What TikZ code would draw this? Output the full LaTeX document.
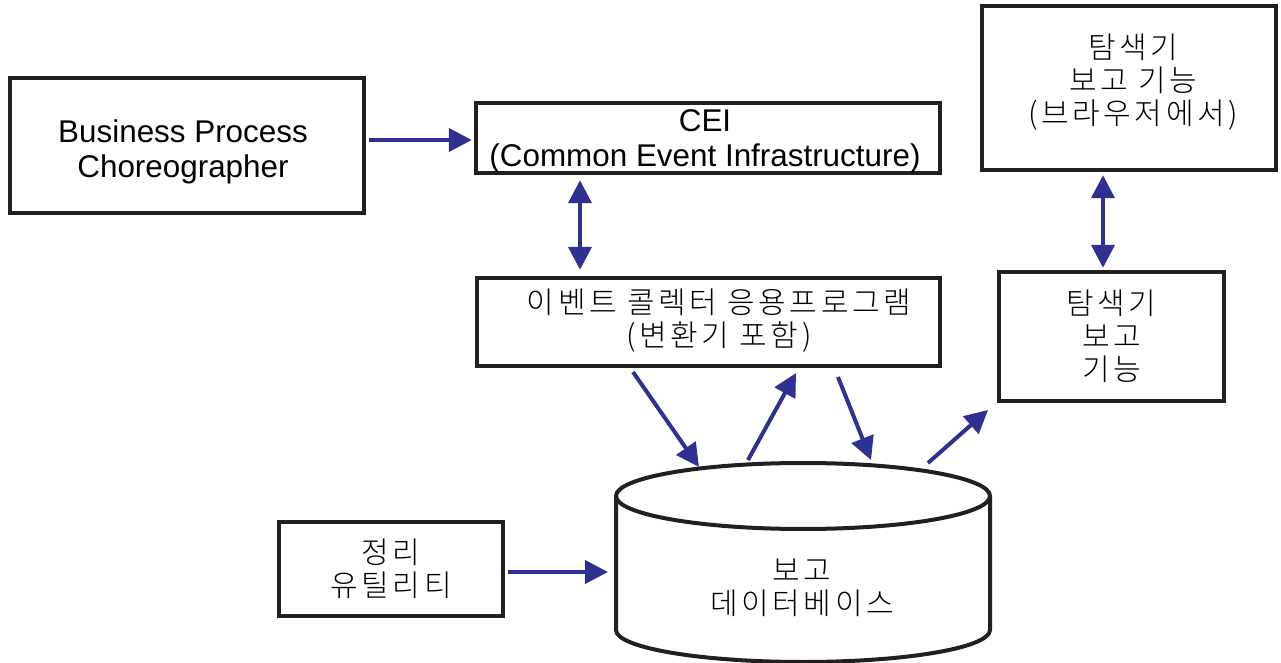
\documentclass[tikz,border=0pt]{standalone}
\usepackage{fontspec}
\setmainfont{Liberation Sans}
\newfontfamily\kr{Noto Sans CJK KR}[UprightFont=* Light, LetterSpace=12]
\usetikzlibrary{arrows.meta}
\definecolor{arrowblue}{HTML}{2E3192}
\definecolor{ink}{HTML}{231F20}
\tikzset{
  box/.style={draw=ink, line width=2.2pt, rectangle, align=center, inner sep=0pt},
  txt/.style={align=center, inner sep=0pt},
  lat/.style={font=\fontsize{15.7}{17.5}\selectfont},
  kor/.style={font=\kr\fontsize{15}{16.5}\selectfont},
  arr/.style={draw=arrowblue, line width=2pt, -{Triangle[length=11.5pt,width=11.5pt]}},
  darr/.style={draw=arrowblue, line width=2pt, {Triangle[length=11.5pt,width=11.5pt]}-{Triangle[length=11.5pt,width=11.5pt]}},
}
\begin{document}
\begin{tikzpicture}[x=0.5pt,y=-0.5pt]
\useasboundingbox (0,0) rectangle (1281,663);

% boxes
\node[box, minimum width=177pt, minimum height=67.5pt] (bpc) at (187,145.5) {};
\node[txt, lat] (bpct) at (183,152) {Business Process\\Choreographer};
\node[box, minimum width=232pt, minimum height=35pt] (cei) at (708,138) {};
\node[txt, lat] (ceit) at (705,141) {CEI\\(Common Event Infrastructure)};
\node[box, minimum width=231.5pt, minimum height=44pt] (col) at (708.5,322) {};
\node[txt, kor] (colt) at (719,321) {이벤트 콜렉터 응용프로그램\\(변환기 포함)};
\node[box, minimum width=147pt, minimum height=82pt] (ex1) at (1129,88) {};
\node[txt, kor] (ex1t) at (1133,82) {탐색기\\보고 기능\\(브라우저에서)};
\node[box, kor, minimum width=112.5pt, minimum height=64.5pt] (ex2) at (1111.5,336.5) {탐색기\\보고\\기능};
\node[box, kor, minimum width=112pt, minimum height=47pt] (cln) at (391,569) {정리\\유틸리티};

% cylinder (reporting database)
\draw[draw=ink, line width=2pt] (616,496) -- (616,630) arc[start angle=180, end angle=360, x radius=93.5pt, y radius=16pt] -- (990,496);
\draw[draw=ink, line width=2pt] (803,496) ellipse[x radius=93.5pt, y radius=16.5pt];
\node[kor, txt] (db) at (802,588) {보고\\데이터베이스};

% connector end points
\coordinate (d1s) at (633,372);
\coordinate (d1e) at (699,467);
\coordinate (u1s) at (748,460);
\coordinate (u1e) at (796,373);
\coordinate (d2s) at (838,377);
\coordinate (d2e) at (871,460);
\coordinate (r1s) at (928,463);
\coordinate (r1e) at (988,410);

% connectors
\draw[arr, shorten <=1.5pt, shorten >=1pt] (bpc.east |- 0,140) -- (cei.west |- 0,140);
\draw[darr, shorten <=2.5pt, shorten >=3pt] (cei.south -| 580,0) -- (col.north -| 580,0);
\draw[darr, shorten <=1.5pt, shorten >=1pt] (ex1.south -| 1103,0) -- (ex2.north -| 1103,0);
\draw[arr, shorten <=1.5pt, shorten >=2pt] (cln.east |- 0,572) -- (612,572);
\draw[arr] (d1s) -- (d1e);
\draw[arr] (u1s) -- (u1e);
\draw[arr] (d2s) -- (d2e);
\draw[arr] (r1s) -- (r1e);
\end{tikzpicture}
\end{document}
